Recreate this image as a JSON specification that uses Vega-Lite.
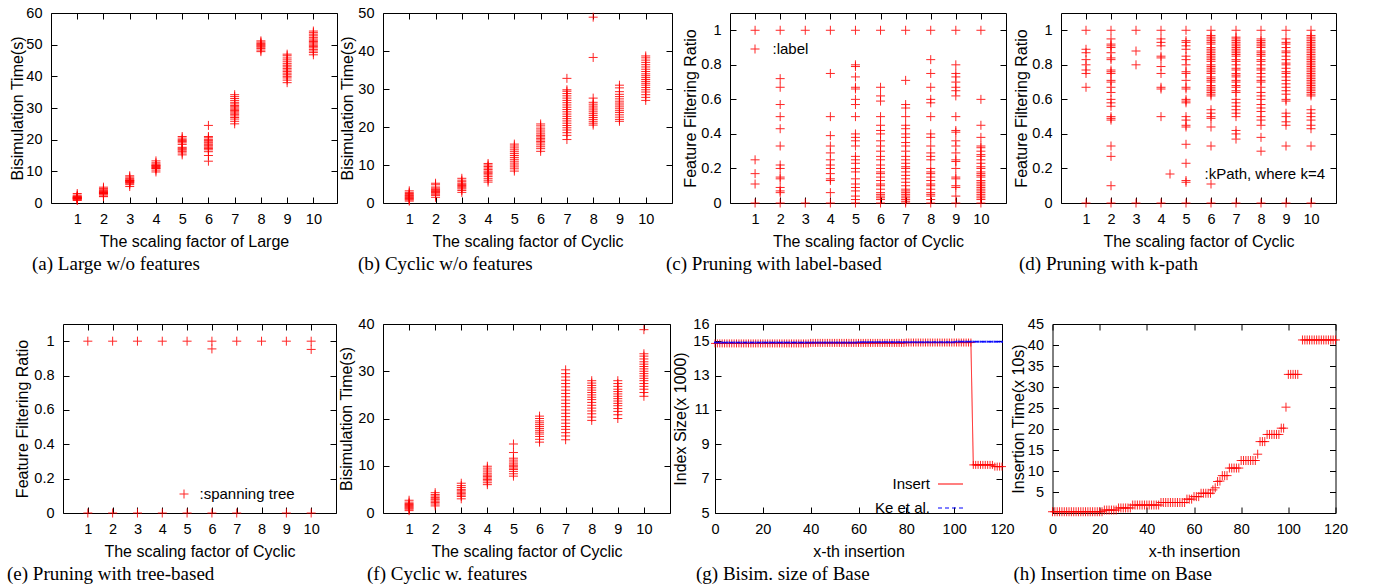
{
"$schema": "https://vega.github.io/schema/vega-lite/v6.json",
"background": "white",
"padding": {"left": 6, "top": 4, "right": 5, "bottom": 5},
"datasets": {
"a": [
{"x":1,"y":0.8},{"x":1,"y":1.0},{"x":1,"y":1.2},{"x":1,"y":1.3},{"x":1,"y":1.4},{"x":1,"y":1.5},{"x":1,"y":1.6},{"x":1,"y":1.7},{"x":1,"y":1.8},{"x":1,"y":1.9},{"x":1,"y":2.0},{"x":1,"y":2.2},{"x":1,"y":2.5},{"x":1,"y":3.0},
{"x":2,"y":2.0},{"x":2,"y":2.2},{"x":2,"y":2.6},{"x":2,"y":2.9},{"x":2,"y":3.0},{"x":2,"y":3.1},{"x":2,"y":3.3},{"x":2,"y":3.4},{"x":2,"y":3.5},{"x":2,"y":3.7},{"x":2,"y":3.9},{"x":2,"y":4.2},{"x":2,"y":4.6},{"x":2,"y":5.0},
{"x":3,"y":5.2},{"x":3,"y":5.8},{"x":3,"y":6.2},{"x":3,"y":6.5},{"x":3,"y":6.6},{"x":3,"y":6.8},{"x":3,"y":7.0},{"x":3,"y":7.1},{"x":3,"y":7.2},{"x":3,"y":7.5},{"x":3,"y":7.8},{"x":3,"y":8.2},{"x":3,"y":8.6},
{"x":4,"y":9.8},{"x":4,"y":10.4},{"x":4,"y":10.9},{"x":4,"y":11.0},{"x":4,"y":11.2},{"x":4,"y":11.5},{"x":4,"y":11.7},{"x":4,"y":11.8},{"x":4,"y":12.0},{"x":4,"y":12.3},{"x":4,"y":12.7},{"x":4,"y":13.3},
{"x":5,"y":15.2},{"x":5,"y":15.8},{"x":5,"y":16.3},{"x":5,"y":16.7},{"x":5,"y":17.0},{"x":5,"y":17.3},{"x":5,"y":17.6},{"x":5,"y":18.5},{"x":5,"y":19.0},{"x":5,"y":19.4},{"x":5,"y":19.7},{"x":5,"y":20.0},{"x":5,"y":20.5},{"x":5,"y":21.0},
{"x":6,"y":13.2},{"x":6,"y":15.0},{"x":6,"y":16.2},{"x":6,"y":16.8},{"x":6,"y":17.2},{"x":6,"y":17.6},{"x":6,"y":18.0},{"x":6,"y":18.3},{"x":6,"y":18.6},{"x":6,"y":19.0},{"x":6,"y":19.3},{"x":6,"y":19.7},{"x":6,"y":20.1},{"x":6,"y":20.6},{"x":6,"y":21.0},{"x":6,"y":24.5},
{"x":7,"y":25.0},{"x":7,"y":25.8},{"x":7,"y":26.5},{"x":7,"y":27.0},{"x":7,"y":27.5},{"x":7,"y":28.0},{"x":7,"y":28.4},{"x":7,"y":28.8},{"x":7,"y":29.2},{"x":7,"y":29.6},{"x":7,"y":30.0},{"x":7,"y":30.4},{"x":7,"y":30.8},{"x":7,"y":31.3},{"x":7,"y":31.8},{"x":7,"y":32.4},{"x":7,"y":33.0},{"x":7,"y":33.6},{"x":7,"y":34.2},
{"x":8,"y":47.8},{"x":8,"y":48.3},{"x":8,"y":48.8},{"x":8,"y":49.2},{"x":8,"y":49.5},{"x":8,"y":49.8},{"x":8,"y":50.1},{"x":8,"y":50.4},{"x":8,"y":50.8},{"x":8,"y":51.2},
{"x":9,"y":38.0},{"x":9,"y":38.8},{"x":9,"y":39.5},{"x":9,"y":40.0},{"x":9,"y":40.5},{"x":9,"y":41.0},{"x":9,"y":41.5},{"x":9,"y":42.0},{"x":9,"y":42.5},{"x":9,"y":43.0},{"x":9,"y":43.5},{"x":9,"y":44.0},{"x":9,"y":44.6},{"x":9,"y":45.2},{"x":9,"y":45.8},{"x":9,"y":46.5},{"x":9,"y":47.0},
{"x":10,"y":46.8},{"x":10,"y":47.5},{"x":10,"y":48.0},{"x":10,"y":48.5},{"x":10,"y":49.0},{"x":10,"y":49.4},{"x":10,"y":49.8},{"x":10,"y":50.2},{"x":10,"y":50.6},{"x":10,"y":51.0},{"x":10,"y":51.4},{"x":10,"y":51.8},{"x":10,"y":52.3},{"x":10,"y":52.8},{"x":10,"y":53.3},{"x":10,"y":53.8},{"x":10,"y":54.3}
],
"b": [
{"x":1,"y":0.5},{"x":1,"y":0.8},{"x":1,"y":1.0},{"x":1,"y":1.2},{"x":1,"y":1.4},{"x":1,"y":1.6},{"x":1,"y":1.8},{"x":1,"y":2.0},{"x":1,"y":2.2},{"x":1,"y":2.5},{"x":1,"y":2.8},{"x":1,"y":3.2},
{"x":2,"y":1.5},{"x":2,"y":2.0},{"x":2,"y":2.3},{"x":2,"y":2.6},{"x":2,"y":2.8},{"x":2,"y":3.0},{"x":2,"y":3.2},{"x":2,"y":3.4},{"x":2,"y":3.6},{"x":2,"y":3.9},{"x":2,"y":4.2},{"x":2,"y":4.8},{"x":2,"y":5.2},
{"x":3,"y":2.8},{"x":3,"y":3.3},{"x":3,"y":3.7},{"x":3,"y":4.0},{"x":3,"y":4.3},{"x":3,"y":4.6},{"x":3,"y":4.9},{"x":3,"y":5.2},{"x":3,"y":5.6},{"x":3,"y":6.0},{"x":3,"y":6.5},
{"x":4,"y":5.5},{"x":4,"y":6.0},{"x":4,"y":6.5},{"x":4,"y":7.0},{"x":4,"y":7.4},{"x":4,"y":7.8},{"x":4,"y":8.1},{"x":4,"y":8.4},{"x":4,"y":8.8},{"x":4,"y":9.2},{"x":4,"y":9.6},{"x":4,"y":10.0},{"x":4,"y":10.4},
{"x":5,"y":8.4},{"x":5,"y":9.0},{"x":5,"y":9.5},{"x":5,"y":10.0},{"x":5,"y":10.5},{"x":5,"y":11.0},{"x":5,"y":11.5},{"x":5,"y":12.0},{"x":5,"y":12.5},{"x":5,"y":13.0},{"x":5,"y":13.5},{"x":5,"y":14.0},{"x":5,"y":14.5},{"x":5,"y":15.0},{"x":5,"y":15.5},
{"x":6,"y":13.6},{"x":6,"y":14.3},{"x":6,"y":14.8},{"x":6,"y":15.3},{"x":6,"y":15.8},{"x":6,"y":16.2},{"x":6,"y":16.6},{"x":6,"y":17.0},{"x":6,"y":17.4},{"x":6,"y":17.8},{"x":6,"y":18.2},{"x":6,"y":18.7},{"x":6,"y":19.2},{"x":6,"y":19.7},{"x":6,"y":20.3},{"x":6,"y":20.8},
{"x":7,"y":16.7},{"x":7,"y":17.8},{"x":7,"y":18.5},{"x":7,"y":19.2},{"x":7,"y":19.8},{"x":7,"y":20.4},{"x":7,"y":21.0},{"x":7,"y":21.6},{"x":7,"y":22.2},{"x":7,"y":22.8},{"x":7,"y":23.4},{"x":7,"y":24.0},{"x":7,"y":24.6},{"x":7,"y":25.2},{"x":7,"y":25.8},{"x":7,"y":26.4},{"x":7,"y":27.0},{"x":7,"y":27.6},{"x":7,"y":28.2},{"x":7,"y":28.8},{"x":7,"y":29.4},{"x":7,"y":29.8},{"x":7,"y":32.8},
{"x":8,"y":20.5},{"x":8,"y":21.0},{"x":8,"y":21.5},{"x":8,"y":22.0},{"x":8,"y":22.5},{"x":8,"y":23.0},{"x":8,"y":23.5},{"x":8,"y":24.0},{"x":8,"y":24.5},{"x":8,"y":25.0},{"x":8,"y":25.5},{"x":8,"y":26.0},{"x":8,"y":26.5},{"x":8,"y":27.6},{"x":8,"y":38.3},{"x":8,"y":48.9},
{"x":9,"y":21.5},{"x":9,"y":22.0},{"x":9,"y":22.6},{"x":9,"y":23.2},{"x":9,"y":23.8},{"x":9,"y":24.3},{"x":9,"y":24.8},{"x":9,"y":25.3},{"x":9,"y":25.8},{"x":9,"y":26.3},{"x":9,"y":26.8},{"x":9,"y":27.4},{"x":9,"y":28.0},{"x":9,"y":28.6},{"x":9,"y":29.3},{"x":9,"y":30.3},{"x":9,"y":31.0},
{"x":10,"y":27.0},{"x":10,"y":27.8},{"x":10,"y":28.5},{"x":10,"y":29.2},{"x":10,"y":29.8},{"x":10,"y":30.4},{"x":10,"y":31.0},{"x":10,"y":31.5},{"x":10,"y":32.0},{"x":10,"y":32.5},{"x":10,"y":33.0},{"x":10,"y":33.5},{"x":10,"y":34.0},{"x":10,"y":34.6},{"x":10,"y":35.2},{"x":10,"y":35.8},{"x":10,"y":36.4},{"x":10,"y":37.0},{"x":10,"y":37.6},{"x":10,"y":38.2},{"x":10,"y":38.7}
],
"c": [
{"x":1,"y":1},{"x":1,"y":0},{"x":1,"y":0.25},{"x":1,"y":0.17},{"x":1,"y":0.11},
{"x":2,"y":1},{"x":2,"y":0},{"x":2,"y":0.72},{"x":2,"y":0.67},{"x":2,"y":0.57},{"x":2,"y":0.5},{"x":2,"y":0.43},{"x":2,"y":0.33},{"x":2,"y":0.22},{"x":2,"y":0.2},{"x":2,"y":0.15},{"x":2,"y":0.14},{"x":2,"y":0.09},{"x":2,"y":0.07},{"x":2,"y":0.06},
{"x":3,"y":1},{"x":3,"y":0},
{"x":4,"y":1},{"x":4,"y":0},{"x":4,"y":0.75},{"x":4,"y":0.5},{"x":4,"y":0.39},{"x":4,"y":0.33},{"x":4,"y":0.29},{"x":4,"y":0.25},{"x":4,"y":0.22},{"x":4,"y":0.2},{"x":4,"y":0.17},{"x":4,"y":0.14},{"x":4,"y":0.13},{"x":4,"y":0.06},
{"x":5,"y":1},{"x":5,"y":0},{"x":5,"y":0.8},{"x":5,"y":0.79},{"x":5,"y":0.73},{"x":5,"y":0.67},{"x":5,"y":0.66},{"x":5,"y":0.6},{"x":5,"y":0.57},{"x":5,"y":0.5},{"x":5,"y":0.4},{"x":5,"y":0.38},{"x":5,"y":0.36},{"x":5,"y":0.33},{"x":5,"y":0.27},{"x":5,"y":0.25},{"x":5,"y":0.23},{"x":5,"y":0.2},{"x":5,"y":0.18},{"x":5,"y":0.14},{"x":5,"y":0.11},{"x":5,"y":0.09},{"x":5,"y":0.07},{"x":5,"y":0.04},{"x":5,"y":0.02},
{"x":6,"y":1},{"x":6,"y":0},{"x":6,"y":0.67},{"x":6,"y":0.62},{"x":6,"y":0.59},{"x":6,"y":0.5},{"x":6,"y":0.45},{"x":6,"y":0.42},{"x":6,"y":0.4},{"x":6,"y":0.36},{"x":6,"y":0.33},{"x":6,"y":0.3},{"x":6,"y":0.27},{"x":6,"y":0.25},{"x":6,"y":0.22},{"x":6,"y":0.2},{"x":6,"y":0.18},{"x":6,"y":0.17},{"x":6,"y":0.15},{"x":6,"y":0.13},{"x":6,"y":0.11},{"x":6,"y":0.1},{"x":6,"y":0.08},{"x":6,"y":0.06},{"x":6,"y":0.05},{"x":6,"y":0.04},{"x":6,"y":0.03},{"x":6,"y":0.02},
{"x":7,"y":1},{"x":7,"y":0},{"x":7,"y":0.71},{"x":7,"y":0.57},{"x":7,"y":0.55},{"x":7,"y":0.5},{"x":7,"y":0.45},{"x":7,"y":0.43},{"x":7,"y":0.4},{"x":7,"y":0.38},{"x":7,"y":0.35},{"x":7,"y":0.33},{"x":7,"y":0.3},{"x":7,"y":0.27},{"x":7,"y":0.25},{"x":7,"y":0.23},{"x":7,"y":0.21},{"x":7,"y":0.2},{"x":7,"y":0.18},{"x":7,"y":0.16},{"x":7,"y":0.14},{"x":7,"y":0.12},{"x":7,"y":0.1},{"x":7,"y":0.08},{"x":7,"y":0.07},{"x":7,"y":0.06},{"x":7,"y":0.05},{"x":7,"y":0.04},{"x":7,"y":0.03},{"x":7,"y":0.02},{"x":7,"y":0.01},
{"x":8,"y":1},{"x":8,"y":0},{"x":8,"y":0.83},{"x":8,"y":0.75},{"x":8,"y":0.67},{"x":8,"y":0.6},{"x":8,"y":0.58},{"x":8,"y":0.5},{"x":8,"y":0.4},{"x":8,"y":0.38},{"x":8,"y":0.33},{"x":8,"y":0.29},{"x":8,"y":0.27},{"x":8,"y":0.25},{"x":8,"y":0.2},{"x":8,"y":0.18},{"x":8,"y":0.17},{"x":8,"y":0.15},{"x":8,"y":0.13},{"x":8,"y":0.11},{"x":8,"y":0.1},{"x":8,"y":0.08},{"x":8,"y":0.06},{"x":8,"y":0.05},{"x":8,"y":0.04},{"x":8,"y":0.02},
{"x":9,"y":1},{"x":9,"y":0},{"x":9,"y":0.8},{"x":9,"y":0.75},{"x":9,"y":0.73},{"x":9,"y":0.7},{"x":9,"y":0.67},{"x":9,"y":0.65},{"x":9,"y":0.62},{"x":9,"y":0.5},{"x":9,"y":0.42},{"x":9,"y":0.41},{"x":9,"y":0.36},{"x":9,"y":0.33},{"x":9,"y":0.29},{"x":9,"y":0.25},{"x":9,"y":0.24},{"x":9,"y":0.2},{"x":9,"y":0.15},{"x":9,"y":0.14},{"x":9,"y":0.1},{"x":9,"y":0.09},{"x":9,"y":0.04},
{"x":10,"y":1},{"x":10,"y":0},{"x":10,"y":0.6},{"x":10,"y":0.45},{"x":10,"y":0.38},{"x":10,"y":0.33},{"x":10,"y":0.32},{"x":10,"y":0.3},{"x":10,"y":0.28},{"x":10,"y":0.27},{"x":10,"y":0.25},{"x":10,"y":0.23},{"x":10,"y":0.21},{"x":10,"y":0.2},{"x":10,"y":0.18},{"x":10,"y":0.17},{"x":10,"y":0.16},{"x":10,"y":0.15},{"x":10,"y":0.13},{"x":10,"y":0.12},{"x":10,"y":0.11},{"x":10,"y":0.1},{"x":10,"y":0.09},{"x":10,"y":0.08},{"x":10,"y":0.07},{"x":10,"y":0.06},{"x":10,"y":0.05},{"x":10,"y":0.04},{"x":10,"y":0.03},{"x":10,"y":0.02}
],
"d": [
{"x":1,"y":1},{"x":1,"y":0},{"x":1,"y":0.89},{"x":1,"y":0.87},{"x":1,"y":0.83},{"x":1,"y":0.8},{"x":1,"y":0.77},{"x":1,"y":0.75},{"x":1,"y":0.67},
{"x":2,"y":1},{"x":2,"y":0},{"x":2,"y":0.95},{"x":2,"y":0.92},{"x":2,"y":0.91},{"x":2,"y":0.9},{"x":2,"y":0.87},{"x":2,"y":0.84},{"x":2,"y":0.83},{"x":2,"y":0.77},{"x":2,"y":0.76},{"x":2,"y":0.75},{"x":2,"y":0.71},{"x":2,"y":0.7},{"x":2,"y":0.67},{"x":2,"y":0.64},{"x":2,"y":0.6},{"x":2,"y":0.58},{"x":2,"y":0.56},{"x":2,"y":0.5},{"x":2,"y":0.49},{"x":2,"y":0.48},{"x":2,"y":0.33},{"x":2,"y":0.27},{"x":2,"y":0.1},
{"x":3,"y":1},{"x":3,"y":0},{"x":3,"y":0.88},{"x":3,"y":0.8},
{"x":4,"y":1},{"x":4,"y":0},{"x":4,"y":0.95},{"x":4,"y":0.93},{"x":4,"y":0.91},{"x":4,"y":0.85},{"x":4,"y":0.84},{"x":4,"y":0.79},{"x":4,"y":0.75},{"x":4,"y":0.67},{"x":4,"y":0.66},{"x":4,"y":0.5},
{"x":5,"y":1},{"x":5,"y":0},{"x":5,"y":0.94},{"x":5,"y":0.93},{"x":5,"y":0.91},{"x":5,"y":0.89},{"x":5,"y":0.85},{"x":5,"y":0.83},{"x":5,"y":0.8},{"x":5,"y":0.76},{"x":5,"y":0.75},{"x":5,"y":0.71},{"x":5,"y":0.67},{"x":5,"y":0.66},{"x":5,"y":0.6},{"x":5,"y":0.59},{"x":5,"y":0.58},{"x":5,"y":0.5},{"x":5,"y":0.48},{"x":5,"y":0.45},{"x":5,"y":0.44},{"x":5,"y":0.34},{"x":5,"y":0.23},{"x":5,"y":0.13},{"x":5,"y":0.12},
{"x":6,"y":1},{"x":6,"y":0},{"x":6,"y":0.97},{"x":6,"y":0.96},{"x":6,"y":0.95},{"x":6,"y":0.94},{"x":6,"y":0.93},{"x":6,"y":0.92},{"x":6,"y":0.9},{"x":6,"y":0.89},{"x":6,"y":0.88},{"x":6,"y":0.87},{"x":6,"y":0.86},{"x":6,"y":0.85},{"x":6,"y":0.84},{"x":6,"y":0.83},{"x":6,"y":0.82},{"x":6,"y":0.8},{"x":6,"y":0.79},{"x":6,"y":0.78},{"x":6,"y":0.77},{"x":6,"y":0.76},{"x":6,"y":0.75},{"x":6,"y":0.73},{"x":6,"y":0.72},{"x":6,"y":0.71},{"x":6,"y":0.7},{"x":6,"y":0.68},{"x":6,"y":0.67},{"x":6,"y":0.66},{"x":6,"y":0.65},{"x":6,"y":0.64},{"x":6,"y":0.63},{"x":6,"y":0.62},{"x":6,"y":0.54},{"x":6,"y":0.52},{"x":6,"y":0.5},{"x":6,"y":0.49},{"x":6,"y":0.44},{"x":6,"y":0.33},{"x":6,"y":0.11},
{"x":7,"y":1},{"x":7,"y":0},{"x":7,"y":0.96},{"x":7,"y":0.95},{"x":7,"y":0.94},{"x":7,"y":0.93},{"x":7,"y":0.92},{"x":7,"y":0.91},{"x":7,"y":0.9},{"x":7,"y":0.89},{"x":7,"y":0.88},{"x":7,"y":0.87},{"x":7,"y":0.86},{"x":7,"y":0.85},{"x":7,"y":0.83},{"x":7,"y":0.82},{"x":7,"y":0.8},{"x":7,"y":0.78},{"x":7,"y":0.77},{"x":7,"y":0.75},{"x":7,"y":0.74},{"x":7,"y":0.73},{"x":7,"y":0.71},{"x":7,"y":0.7},{"x":7,"y":0.68},{"x":7,"y":0.67},{"x":7,"y":0.65},{"x":7,"y":0.64},{"x":7,"y":0.6},{"x":7,"y":0.58},{"x":7,"y":0.56},{"x":7,"y":0.54},{"x":7,"y":0.52},{"x":7,"y":0.5},{"x":7,"y":0.42},{"x":7,"y":0.4},{"x":7,"y":0.37},
{"x":8,"y":1},{"x":8,"y":0},{"x":8,"y":0.95},{"x":8,"y":0.94},{"x":8,"y":0.93},{"x":8,"y":0.92},{"x":8,"y":0.91},{"x":8,"y":0.9},{"x":8,"y":0.88},{"x":8,"y":0.87},{"x":8,"y":0.86},{"x":8,"y":0.85},{"x":8,"y":0.83},{"x":8,"y":0.82},{"x":8,"y":0.8},{"x":8,"y":0.78},{"x":8,"y":0.77},{"x":8,"y":0.75},{"x":8,"y":0.73},{"x":8,"y":0.71},{"x":8,"y":0.7},{"x":8,"y":0.67},{"x":8,"y":0.64},{"x":8,"y":0.62},{"x":8,"y":0.6},{"x":8,"y":0.57},{"x":8,"y":0.55},{"x":8,"y":0.53},{"x":8,"y":0.5},{"x":8,"y":0.48},{"x":8,"y":0.45},{"x":8,"y":0.38},{"x":8,"y":0.3},
{"x":9,"y":1},{"x":9,"y":0},{"x":9,"y":0.95},{"x":9,"y":0.93},{"x":9,"y":0.92},{"x":9,"y":0.9},{"x":9,"y":0.88},{"x":9,"y":0.87},{"x":9,"y":0.85},{"x":9,"y":0.83},{"x":9,"y":0.81},{"x":9,"y":0.8},{"x":9,"y":0.78},{"x":9,"y":0.76},{"x":9,"y":0.75},{"x":9,"y":0.73},{"x":9,"y":0.71},{"x":9,"y":0.69},{"x":9,"y":0.67},{"x":9,"y":0.65},{"x":9,"y":0.63},{"x":9,"y":0.6},{"x":9,"y":0.59},{"x":9,"y":0.52},{"x":9,"y":0.5},{"x":9,"y":0.47},{"x":9,"y":0.45},{"x":9,"y":0.33},
{"x":10,"y":1},{"x":10,"y":0},{"x":10,"y":0.97},{"x":10,"y":0.96},{"x":10,"y":0.95},{"x":10,"y":0.94},{"x":10,"y":0.93},{"x":10,"y":0.92},{"x":10,"y":0.91},{"x":10,"y":0.9},{"x":10,"y":0.89},{"x":10,"y":0.88},{"x":10,"y":0.87},{"x":10,"y":0.86},{"x":10,"y":0.85},{"x":10,"y":0.84},{"x":10,"y":0.83},{"x":10,"y":0.82},{"x":10,"y":0.81},{"x":10,"y":0.8},{"x":10,"y":0.79},{"x":10,"y":0.78},{"x":10,"y":0.77},{"x":10,"y":0.76},{"x":10,"y":0.75},{"x":10,"y":0.74},{"x":10,"y":0.73},{"x":10,"y":0.72},{"x":10,"y":0.71},{"x":10,"y":0.7},{"x":10,"y":0.69},{"x":10,"y":0.68},{"x":10,"y":0.67},{"x":10,"y":0.66},{"x":10,"y":0.65},{"x":10,"y":0.64},{"x":10,"y":0.63},{"x":10,"y":0.62},{"x":10,"y":0.54},{"x":10,"y":0.52},{"x":10,"y":0.5},{"x":10,"y":0.48},{"x":10,"y":0.45},{"x":10,"y":0.43},{"x":10,"y":0.33}
],
"e": [
{"x":1,"y":1},{"x":2,"y":1},{"x":3,"y":1},{"x":4,"y":1},{"x":5,"y":1},{"x":6,"y":1},{"x":7,"y":1},{"x":8,"y":1},{"x":9,"y":1},{"x":10,"y":1},
{"x":1,"y":0},{"x":2,"y":0},{"x":3,"y":0},{"x":4,"y":0},{"x":5,"y":0},{"x":6,"y":0},{"x":7,"y":0},{"x":9,"y":0},{"x":10,"y":0},
{"x":6,"y":0.955},{"x":10,"y":0.952}
],
"f": [
{"x":1,"y":0.5},{"x":1,"y":0.8},{"x":1,"y":1.0},{"x":1,"y":1.2},{"x":1,"y":1.4},{"x":1,"y":1.6},{"x":1,"y":1.8},{"x":1,"y":2.0},{"x":1,"y":2.3},{"x":1,"y":2.7},
{"x":2,"y":1.5},{"x":2,"y":1.9},{"x":2,"y":2.2},{"x":2,"y":2.5},{"x":2,"y":2.8},{"x":2,"y":3.0},{"x":2,"y":3.3},{"x":2,"y":3.6},{"x":2,"y":3.9},{"x":2,"y":4.3},
{"x":3,"y":3.0},{"x":3,"y":3.5},{"x":3,"y":3.8},{"x":3,"y":4.1},{"x":3,"y":4.4},{"x":3,"y":4.7},{"x":3,"y":5.0},{"x":3,"y":5.4},{"x":3,"y":5.8},{"x":3,"y":6.3},
{"x":4,"y":6.0},{"x":4,"y":6.4},{"x":4,"y":6.8},{"x":4,"y":7.1},{"x":4,"y":7.4},{"x":4,"y":7.7},{"x":4,"y":8.0},{"x":4,"y":8.3},{"x":4,"y":8.7},{"x":4,"y":9.1},{"x":4,"y":9.5},{"x":4,"y":9.9},
{"x":5,"y":7.8},{"x":5,"y":8.3},{"x":5,"y":8.8},{"x":5,"y":9.2},{"x":5,"y":9.5},{"x":5,"y":9.8},{"x":5,"y":10.1},{"x":5,"y":10.4},{"x":5,"y":10.8},{"x":5,"y":11.2},{"x":5,"y":11.6},{"x":5,"y":12.8},{"x":5,"y":14.6},
{"x":6,"y":15.0},{"x":6,"y":15.6},{"x":6,"y":16.2},{"x":6,"y":16.7},{"x":6,"y":17.1},{"x":6,"y":17.5},{"x":6,"y":17.9},{"x":6,"y":18.3},{"x":6,"y":18.7},{"x":6,"y":19.1},{"x":6,"y":19.5},{"x":6,"y":20.0},{"x":6,"y":20.5},
{"x":7,"y":15.5},{"x":7,"y":16.3},{"x":7,"y":17.0},{"x":7,"y":17.7},{"x":7,"y":18.3},{"x":7,"y":19.0},{"x":7,"y":19.7},{"x":7,"y":20.4},{"x":7,"y":21.1},{"x":7,"y":21.8},{"x":7,"y":22.5},{"x":7,"y":23.2},{"x":7,"y":23.9},{"x":7,"y":24.6},{"x":7,"y":25.3},{"x":7,"y":26.0},{"x":7,"y":26.7},{"x":7,"y":27.4},{"x":7,"y":28.1},{"x":7,"y":28.8},{"x":7,"y":29.5},{"x":7,"y":30.3},
{"x":8,"y":19.6},{"x":8,"y":20.3},{"x":8,"y":21.0},{"x":8,"y":21.6},{"x":8,"y":22.2},{"x":8,"y":22.8},{"x":8,"y":23.4},{"x":8,"y":24.0},{"x":8,"y":24.5},{"x":8,"y":25.0},{"x":8,"y":25.5},{"x":8,"y":26.0},{"x":8,"y":26.5},{"x":8,"y":27.0},{"x":8,"y":27.5},{"x":8,"y":28.0},
{"x":9,"y":20.0},{"x":9,"y":20.8},{"x":9,"y":21.5},{"x":9,"y":22.1},{"x":9,"y":22.7},{"x":9,"y":23.2},{"x":9,"y":23.7},{"x":9,"y":24.2},{"x":9,"y":24.7},{"x":9,"y":25.2},{"x":9,"y":25.7},{"x":9,"y":26.2},{"x":9,"y":26.8},{"x":9,"y":27.4},{"x":9,"y":28.0},
{"x":10,"y":24.7},{"x":10,"y":25.5},{"x":10,"y":26.2},{"x":10,"y":26.8},{"x":10,"y":27.4},{"x":10,"y":28.0},{"x":10,"y":28.5},{"x":10,"y":29.0},{"x":10,"y":29.5},{"x":10,"y":30.0},{"x":10,"y":30.5},{"x":10,"y":31.0},{"x":10,"y":31.5},{"x":10,"y":32.0},{"x":10,"y":32.6},{"x":10,"y":33.2},{"x":10,"y":33.7},{"x":10,"y":38.8}
],
"g": [
{"x":0,"y":14.87,"s":"Insert"},{"x":1,"y":14.87,"s":"Insert"},{"x":2,"y":14.87,"s":"Insert"},{"x":3,"y":14.87,"s":"Insert"},{"x":4,"y":14.87,"s":"Insert"},{"x":5,"y":14.87,"s":"Insert"},{"x":6,"y":14.87,"s":"Insert"},{"x":7,"y":14.87,"s":"Insert"},{"x":8,"y":14.87,"s":"Insert"},{"x":9,"y":14.87,"s":"Insert"},
{"x":10,"y":14.87,"s":"Insert"},{"x":11,"y":14.87,"s":"Insert"},{"x":12,"y":14.87,"s":"Insert"},{"x":13,"y":14.87,"s":"Insert"},{"x":14,"y":14.87,"s":"Insert"},{"x":15,"y":14.87,"s":"Insert"},{"x":16,"y":14.87,"s":"Insert"},{"x":17,"y":14.87,"s":"Insert"},{"x":18,"y":14.87,"s":"Insert"},{"x":19,"y":14.87,"s":"Insert"},
{"x":20,"y":14.87,"s":"Insert"},{"x":21,"y":14.87,"s":"Insert"},{"x":22,"y":14.87,"s":"Insert"},{"x":23,"y":14.87,"s":"Insert"},{"x":24,"y":14.87,"s":"Insert"},{"x":25,"y":14.87,"s":"Insert"},{"x":26,"y":14.87,"s":"Insert"},{"x":27,"y":14.87,"s":"Insert"},{"x":28,"y":14.87,"s":"Insert"},{"x":29,"y":14.87,"s":"Insert"},
{"x":30,"y":14.87,"s":"Insert"},{"x":31,"y":14.87,"s":"Insert"},{"x":32,"y":14.87,"s":"Insert"},{"x":33,"y":14.87,"s":"Insert"},{"x":34,"y":14.87,"s":"Insert"},{"x":35,"y":14.87,"s":"Insert"},{"x":36,"y":14.87,"s":"Insert"},{"x":37,"y":14.87,"s":"Insert"},{"x":38,"y":14.87,"s":"Insert"},{"x":39,"y":14.87,"s":"Insert"},
{"x":40,"y":14.9,"s":"Insert"},{"x":41,"y":14.9,"s":"Insert"},{"x":42,"y":14.9,"s":"Insert"},{"x":43,"y":14.9,"s":"Insert"},{"x":44,"y":14.9,"s":"Insert"},{"x":45,"y":14.9,"s":"Insert"},{"x":46,"y":14.9,"s":"Insert"},{"x":47,"y":14.9,"s":"Insert"},{"x":48,"y":14.9,"s":"Insert"},{"x":49,"y":14.9,"s":"Insert"},
{"x":50,"y":14.9,"s":"Insert"},{"x":51,"y":14.9,"s":"Insert"},{"x":52,"y":14.9,"s":"Insert"},{"x":53,"y":14.9,"s":"Insert"},{"x":54,"y":14.9,"s":"Insert"},{"x":55,"y":14.9,"s":"Insert"},{"x":56,"y":14.9,"s":"Insert"},{"x":57,"y":14.9,"s":"Insert"},{"x":58,"y":14.9,"s":"Insert"},{"x":59,"y":14.9,"s":"Insert"},
{"x":60,"y":14.9,"s":"Insert"},{"x":61,"y":14.9,"s":"Insert"},{"x":62,"y":14.9,"s":"Insert"},{"x":63,"y":14.9,"s":"Insert"},{"x":64,"y":14.9,"s":"Insert"},{"x":65,"y":14.9,"s":"Insert"},{"x":66,"y":14.9,"s":"Insert"},{"x":67,"y":14.9,"s":"Insert"},{"x":68,"y":14.9,"s":"Insert"},{"x":69,"y":14.9,"s":"Insert"},
{"x":70,"y":14.9,"s":"Insert"},{"x":71,"y":14.9,"s":"Insert"},{"x":72,"y":14.9,"s":"Insert"},{"x":73,"y":14.9,"s":"Insert"},{"x":74,"y":14.9,"s":"Insert"},{"x":75,"y":14.9,"s":"Insert"},{"x":76,"y":14.9,"s":"Insert"},{"x":77,"y":14.9,"s":"Insert"},{"x":78,"y":14.9,"s":"Insert"},{"x":79,"y":14.9,"s":"Insert"},
{"x":80,"y":14.92,"s":"Insert"},{"x":81,"y":14.92,"s":"Insert"},{"x":82,"y":14.92,"s":"Insert"},{"x":83,"y":14.92,"s":"Insert"},{"x":84,"y":14.92,"s":"Insert"},{"x":85,"y":14.92,"s":"Insert"},{"x":86,"y":14.92,"s":"Insert"},{"x":87,"y":14.92,"s":"Insert"},{"x":88,"y":14.92,"s":"Insert"},{"x":89,"y":14.92,"s":"Insert"},
{"x":90,"y":14.92,"s":"Insert"},{"x":91,"y":14.92,"s":"Insert"},{"x":92,"y":14.92,"s":"Insert"},{"x":93,"y":14.92,"s":"Insert"},{"x":94,"y":14.92,"s":"Insert"},{"x":95,"y":14.92,"s":"Insert"},{"x":96,"y":14.92,"s":"Insert"},{"x":97,"y":14.92,"s":"Insert"},{"x":98,"y":14.92,"s":"Insert"},{"x":99,"y":14.92,"s":"Insert"},
{"x":100,"y":14.92,"s":"Insert"},{"x":101,"y":14.92,"s":"Insert"},{"x":102,"y":14.92,"s":"Insert"},{"x":103,"y":14.92,"s":"Insert"},{"x":104,"y":14.92,"s":"Insert"},{"x":105,"y":14.92,"s":"Insert"},{"x":106,"y":14.92,"s":"Insert"},{"x":107,"y":14.92,"s":"Insert"},{"x":108,"y":7.8,"s":"Insert"},{"x":109,"y":7.8,"s":"Insert"},
{"x":110,"y":7.8,"s":"Insert"},{"x":111,"y":7.8,"s":"Insert"},{"x":112,"y":7.8,"s":"Insert"},{"x":113,"y":7.8,"s":"Insert"},{"x":114,"y":7.8,"s":"Insert"},{"x":115,"y":7.8,"s":"Insert"},{"x":116,"y":7.8,"s":"Insert"},{"x":117,"y":7.7,"s":"Insert"},{"x":118,"y":7.7,"s":"Insert"},{"x":119,"y":7.7,"s":"Insert"},{"x":120,"y":7.7,"s":"Insert"},
{"x":0,"y":14.92,"s":"Ke et al."},{"x":1,"y":14.92,"s":"Ke et al."},{"x":2,"y":14.92,"s":"Ke et al."},{"x":3,"y":14.92,"s":"Ke et al."},{"x":4,"y":14.92,"s":"Ke et al."},{"x":5,"y":14.92,"s":"Ke et al."},{"x":6,"y":14.92,"s":"Ke et al."},{"x":7,"y":14.92,"s":"Ke et al."},{"x":8,"y":14.92,"s":"Ke et al."},{"x":9,"y":14.92,"s":"Ke et al."},
{"x":10,"y":14.92,"s":"Ke et al."},{"x":11,"y":14.92,"s":"Ke et al."},{"x":12,"y":14.92,"s":"Ke et al."},{"x":13,"y":14.92,"s":"Ke et al."},{"x":14,"y":14.92,"s":"Ke et al."},{"x":15,"y":14.92,"s":"Ke et al."},{"x":16,"y":14.92,"s":"Ke et al."},{"x":17,"y":14.92,"s":"Ke et al."},{"x":18,"y":14.92,"s":"Ke et al."},{"x":19,"y":14.92,"s":"Ke et al."},
{"x":20,"y":14.92,"s":"Ke et al."},{"x":21,"y":14.92,"s":"Ke et al."},{"x":22,"y":14.92,"s":"Ke et al."},{"x":23,"y":14.92,"s":"Ke et al."},{"x":24,"y":14.92,"s":"Ke et al."},{"x":25,"y":14.92,"s":"Ke et al."},{"x":26,"y":14.92,"s":"Ke et al."},{"x":27,"y":14.92,"s":"Ke et al."},{"x":28,"y":14.92,"s":"Ke et al."},{"x":29,"y":14.92,"s":"Ke et al."},
{"x":30,"y":14.92,"s":"Ke et al."},{"x":31,"y":14.92,"s":"Ke et al."},{"x":32,"y":14.92,"s":"Ke et al."},{"x":33,"y":14.92,"s":"Ke et al."},{"x":34,"y":14.92,"s":"Ke et al."},{"x":35,"y":14.92,"s":"Ke et al."},{"x":36,"y":14.92,"s":"Ke et al."},{"x":37,"y":14.92,"s":"Ke et al."},{"x":38,"y":14.92,"s":"Ke et al."},{"x":39,"y":14.92,"s":"Ke et al."},
{"x":40,"y":14.92,"s":"Ke et al."},{"x":41,"y":14.92,"s":"Ke et al."},{"x":42,"y":14.92,"s":"Ke et al."},{"x":43,"y":14.92,"s":"Ke et al."},{"x":44,"y":14.92,"s":"Ke et al."},{"x":45,"y":14.92,"s":"Ke et al."},{"x":46,"y":14.92,"s":"Ke et al."},{"x":47,"y":14.92,"s":"Ke et al."},{"x":48,"y":14.92,"s":"Ke et al."},{"x":49,"y":14.92,"s":"Ke et al."},
{"x":50,"y":14.92,"s":"Ke et al."},{"x":51,"y":14.92,"s":"Ke et al."},{"x":52,"y":14.92,"s":"Ke et al."},{"x":53,"y":14.92,"s":"Ke et al."},{"x":54,"y":14.92,"s":"Ke et al."},{"x":55,"y":14.92,"s":"Ke et al."},{"x":56,"y":14.92,"s":"Ke et al."},{"x":57,"y":14.92,"s":"Ke et al."},{"x":58,"y":14.92,"s":"Ke et al."},{"x":59,"y":14.92,"s":"Ke et al."},
{"x":60,"y":14.94,"s":"Ke et al."},{"x":61,"y":14.94,"s":"Ke et al."},{"x":62,"y":14.94,"s":"Ke et al."},{"x":63,"y":14.94,"s":"Ke et al."},{"x":64,"y":14.94,"s":"Ke et al."},{"x":65,"y":14.94,"s":"Ke et al."},{"x":66,"y":14.94,"s":"Ke et al."},{"x":67,"y":14.94,"s":"Ke et al."},{"x":68,"y":14.94,"s":"Ke et al."},{"x":69,"y":14.94,"s":"Ke et al."},
{"x":70,"y":14.94,"s":"Ke et al."},{"x":71,"y":14.94,"s":"Ke et al."},{"x":72,"y":14.94,"s":"Ke et al."},{"x":73,"y":14.94,"s":"Ke et al."},{"x":74,"y":14.94,"s":"Ke et al."},{"x":75,"y":14.94,"s":"Ke et al."},{"x":76,"y":14.94,"s":"Ke et al."},{"x":77,"y":14.94,"s":"Ke et al."},{"x":78,"y":14.94,"s":"Ke et al."},{"x":79,"y":14.94,"s":"Ke et al."},
{"x":80,"y":14.94,"s":"Ke et al."},{"x":81,"y":14.94,"s":"Ke et al."},{"x":82,"y":14.94,"s":"Ke et al."},{"x":83,"y":14.94,"s":"Ke et al."},{"x":84,"y":14.94,"s":"Ke et al."},{"x":85,"y":14.94,"s":"Ke et al."},{"x":86,"y":14.94,"s":"Ke et al."},{"x":87,"y":14.94,"s":"Ke et al."},{"x":88,"y":14.94,"s":"Ke et al."},{"x":89,"y":14.94,"s":"Ke et al."},
{"x":90,"y":14.94,"s":"Ke et al."},{"x":91,"y":14.94,"s":"Ke et al."},{"x":92,"y":14.94,"s":"Ke et al."},{"x":93,"y":14.94,"s":"Ke et al."},{"x":94,"y":14.94,"s":"Ke et al."},{"x":95,"y":14.94,"s":"Ke et al."},{"x":96,"y":14.94,"s":"Ke et al."},{"x":97,"y":14.94,"s":"Ke et al."},{"x":98,"y":14.94,"s":"Ke et al."},{"x":99,"y":14.94,"s":"Ke et al."},
{"x":100,"y":14.94,"s":"Ke et al."},{"x":101,"y":14.97,"s":"Ke et al."},{"x":102,"y":14.97,"s":"Ke et al."},{"x":103,"y":14.97,"s":"Ke et al."},{"x":104,"y":14.97,"s":"Ke et al."},{"x":105,"y":14.97,"s":"Ke et al."},{"x":106,"y":14.97,"s":"Ke et al."},{"x":107,"y":14.97,"s":"Ke et al."},{"x":108,"y":14.97,"s":"Ke et al."},{"x":109,"y":14.97,"s":"Ke et al."},
{"x":110,"y":14.97,"s":"Ke et al."},{"x":111,"y":14.97,"s":"Ke et al."},{"x":112,"y":14.97,"s":"Ke et al."},{"x":113,"y":14.97,"s":"Ke et al."},{"x":114,"y":14.97,"s":"Ke et al."},{"x":115,"y":14.97,"s":"Ke et al."},{"x":116,"y":14.97,"s":"Ke et al."},{"x":117,"y":14.97,"s":"Ke et al."},{"x":118,"y":14.97,"s":"Ke et al."},{"x":119,"y":14.97,"s":"Ke et al."},{"x":120,"y":14.97,"s":"Ke et al."}
],
"h": [
{"x":0,"y":0.3},{"x":1,"y":0.3},{"x":2,"y":0.3},{"x":3,"y":0.3},{"x":4,"y":0.3},{"x":5,"y":0.3},{"x":6,"y":0.3},{"x":7,"y":0.3},{"x":8,"y":0.3},{"x":9,"y":0.3},
{"x":10,"y":0.3},{"x":11,"y":0.3},{"x":12,"y":0.3},{"x":13,"y":0.3},{"x":14,"y":0.3},{"x":15,"y":0.3},{"x":16,"y":0.3},{"x":17,"y":0.3},{"x":18,"y":0.3},{"x":19,"y":0.3},
{"x":20,"y":0.3},{"x":21,"y":0.3},{"x":22,"y":0.7},{"x":23,"y":0.7},{"x":24,"y":0.7},{"x":25,"y":0.7},{"x":26,"y":0.7},{"x":27,"y":0.7},{"x":28,"y":1.2},{"x":29,"y":1.2},
{"x":30,"y":1.2},{"x":31,"y":1.2},{"x":32,"y":1.2},{"x":33,"y":1.2},{"x":34,"y":1.9},{"x":35,"y":1.9},{"x":36,"y":1.9},{"x":37,"y":1.9},{"x":38,"y":1.9},{"x":39,"y":1.9},
{"x":40,"y":1.9},{"x":41,"y":1.9},{"x":42,"y":1.9},{"x":43,"y":1.9},{"x":44,"y":1.9},{"x":45,"y":1.9},{"x":46,"y":2.5},{"x":47,"y":2.5},{"x":48,"y":2.5},{"x":49,"y":2.5},
{"x":50,"y":2.5},{"x":51,"y":2.5},{"x":52,"y":2.5},{"x":53,"y":2.5},{"x":54,"y":2.5},{"x":55,"y":2.5},{"x":56,"y":2.5},{"x":57,"y":3.3},{"x":58,"y":3.3},{"x":59,"y":3.3},
{"x":60,"y":3.9},{"x":61,"y":3.9},{"x":62,"y":3.9},{"x":63,"y":4.7},{"x":64,"y":4.7},{"x":65,"y":4.7},{"x":66,"y":4.7},{"x":67,"y":4.7},{"x":68,"y":5.5},{"x":69,"y":6.0},
{"x":70,"y":7.5},{"x":71,"y":7.6},{"x":72,"y":8.9},{"x":73,"y":8.9},{"x":74,"y":8.9},{"x":75,"y":10.7},{"x":76,"y":10.7},{"x":77,"y":10.7},{"x":78,"y":10.7},{"x":79,"y":10.7},
{"x":80,"y":12.5},{"x":81,"y":12.5},{"x":82,"y":12.5},{"x":83,"y":12.5},{"x":84,"y":12.5},{"x":85,"y":12.5},{"x":86,"y":12.5},{"x":87,"y":14.0},{"x":88,"y":17.0},{"x":89,"y":17.0},
{"x":90,"y":17.0},{"x":91,"y":18.7},{"x":92,"y":18.7},{"x":93,"y":18.7},{"x":94,"y":18.7},{"x":95,"y":18.7},{"x":96,"y":18.7},{"x":97,"y":20.2},{"x":98,"y":20.2},{"x":99,"y":25.2},
{"x":100,"y":33.0},{"x":101,"y":33.0},{"x":102,"y":33.0},{"x":103,"y":33.0},{"x":104,"y":33.0},{"x":106,"y":41.2},{"x":107,"y":41.2},{"x":108,"y":41.2},{"x":109,"y":41.2},
{"x":110,"y":41.2},{"x":111,"y":41.2},{"x":112,"y":41.2},{"x":113,"y":41.2},{"x":114,"y":41.2},{"x":115,"y":41.2},{"x":116,"y":41.2},{"x":117,"y":41.2},{"x":118,"y":41.2},{"x":119,"y":41.2},{"x":120,"y":41.2}
]
},
"spacing": 41,
"resolve": {"scale": {"color": "independent", "shape": "independent", "size": "independent", "strokeDash": "independent"}, "legend": {"color": "independent", "shape": "independent", "size": "independent", "strokeDash": "independent"}},
"vconcat": [
{"spacing": 5,
 "resolve": {"scale": {"color": "independent", "strokeDash": "independent"}, "legend": {"color": "independent", "strokeDash": "independent"}},
 "hconcat": [
 {"spacing": 0,
  "resolve": {"scale": {"color": "independent"}, "legend": {"color": "independent"}},
  "hconcat": [
  {"width": 286, "height": 190, "data": {"name": "a"},
   "title": {"text": "(a) Large w/o features", "orient": "bottom", "anchor": "start", "frame": "group", "dx": -19, "offset": 5},
   "layer": [
    {"mark": {"type": "point", "shape": "M-1,0H1M0,-1V1", "filled": false, "color": "#ff0000", "size": 81, "strokeWidth": 1, "opacity": 0.85},
     "encoding": {
      "x": {"field": "x", "type": "quantitative", "scale": {"domain": [0, 10.9], "nice": false, "zero": false}, "axis": {"values": [1,2,3,4,5,6,7,8,9,10], "title": "The scaling factor of Large"}},
      "y": {"field": "y", "type": "quantitative", "scale": {"domain": [0, 60], "nice": false, "zero": false}, "axis": {"values": [0,10,20,30,40,50,60], "title": "Bisimulation Time(s)", "titlePadding": 0.4}}}},
    {"mark": {"type": "point", "opacity": 0},
     "encoding": {
      "x": {"field": "x", "type": "quantitative", "scale": {"domain": [0, 10.9], "nice": false, "zero": false}, "axis": {"orient": "top", "values": [1,2,3,4,5,6,7,8,9,10], "labels": false, "title": null}},
      "y": {"field": "y", "type": "quantitative", "scale": {"domain": [0, 60], "nice": false, "zero": false}, "axis": {"orient": "right", "values": [0,10,20,30,40,50,60], "labels": false, "title": null}}}}
   ],
   "resolve": {"axis": {"x": "independent", "y": "independent"}}},
  {"spacing": -8,
   "resolve": {"scale": {"color": "independent"}, "legend": {"color": "independent"}},
   "hconcat": [
   {"width": 289, "height": 190, "data": {"name": "b"},
    "title": {"text": "(b) Cyclic w/o features", "orient": "bottom", "anchor": "start", "frame": "group", "dx": -25, "offset": 5},
    "layer": [
     {"mark": {"type": "point", "shape": "M-1,0H1M0,-1V1", "filled": false, "color": "#ff0000", "size": 81, "strokeWidth": 1, "opacity": 0.85},
      "encoding": {
       "x": {"field": "x", "type": "quantitative", "scale": {"domain": [0, 11], "nice": false, "zero": false}, "axis": {"values": [1,2,3,4,5,6,7,8,9,10], "title": "The scaling factor of Cyclic"}},
       "y": {"field": "y", "type": "quantitative", "scale": {"domain": [0, 50], "nice": false, "zero": false}, "axis": {"values": [0,10,20,30,40,50], "title": "Bisimulation Time(s)", "titlePadding": 2.4}}}},
     {"mark": {"type": "point", "opacity": 0},
      "encoding": {
       "x": {"field": "x", "type": "quantitative", "scale": {"domain": [0, 11], "nice": false, "zero": false}, "axis": {"orient": "top", "values": [1,2,3,4,5,6,7,8,9,10], "labels": false, "title": null}},
       "y": {"field": "y", "type": "quantitative", "scale": {"domain": [0, 50], "nice": false, "zero": false}, "axis": {"orient": "right", "values": [0,10,20,30,40,50], "labels": false, "title": null}}}}
    ],
    "resolve": {"axis": {"x": "independent", "y": "independent"}}},
   {"width": 276, "height": 190, "data": {"name": "c"},
    "title": {"text": "(c) Pruning with label-based", "orient": "bottom", "anchor": "start", "frame": "group", "dx": -64, "offset": 5},
    "layer": [
     {"mark": {"type": "point", "shape": "M-1,0H1M0,-1V1", "filled": false, "size": 81, "strokeWidth": 1, "opacity": 0.85},
      "encoding": {
       "x": {"field": "x", "type": "quantitative", "scale": {"domain": [0, 11], "nice": false, "zero": false}, "axis": {"values": [1,2,3,4,5,6,7,8,9,10], "title": "The scaling factor of Cyclic"}},
       "y": {"field": "y", "type": "quantitative", "scale": {"domain": [0, 1.1], "nice": false, "zero": false}, "axis": {"values": [0,0.2,0.4,0.6,0.8,1], "format": "~g", "title": "Feature Filtering Ratio", "titlePadding": 2.5}},
       "color": {"datum": ":label", "scale": {"range": ["#ff0000"]}, "legend": {"orient": "none", "legendX": 17.5, "legendY": 28.5, "title": null, "symbolType": "M-1,0H1M0,-1V1", "symbolSize": 81, "symbolStrokeWidth": 1, "labelOffset": 10}}}},
     {"mark": {"type": "point", "opacity": 0},
      "encoding": {
       "x": {"field": "x", "type": "quantitative", "scale": {"domain": [0, 11], "nice": false, "zero": false}, "axis": {"orient": "top", "values": [1,2,3,4,5,6,7,8,9,10], "labels": false, "title": null}},
       "y": {"field": "y", "type": "quantitative", "scale": {"domain": [0, 1.1], "nice": false, "zero": false}, "axis": {"orient": "right", "values": [0,0.2,0.4,0.6,0.8,1], "labels": false, "title": null}}}}
    ],
    "resolve": {"axis": {"x": "independent", "y": "independent"}}}
   ]}
  ]},
 {"width": 275, "height": 190, "data": {"name": "d"},
  "title": {"text": "(d) Pruning with k-path", "orient": "bottom", "anchor": "start", "frame": "group", "dx": -42, "offset": 5},
  "layer": [
   {"mark": {"type": "point", "shape": "M-1,0H1M0,-1V1", "filled": false, "size": 81, "strokeWidth": 1, "opacity": 0.85},
    "encoding": {
     "x": {"field": "x", "type": "quantitative", "scale": {"domain": [0, 11], "nice": false, "zero": false}, "axis": {"values": [1,2,3,4,5,6,7,8,9,10], "title": "The scaling factor of Cyclic"}},
     "y": {"field": "y", "type": "quantitative", "scale": {"domain": [0, 1.1], "nice": false, "zero": false}, "axis": {"values": [0,0.2,0.4,0.6,0.8,1], "format": "~g", "title": "Feature Filtering Ratio", "titlePadding": 2.5}},
     "color": {"datum": ":kPath, where k=4", "scale": {"range": ["#ff0000"]}, "legend": {"orient": "none", "legendX": 101.5, "legendY": 153.5, "title": null, "symbolType": "M-1,0H1M0,-1V1", "symbolSize": 81, "symbolStrokeWidth": 1, "labelOffset": 27}}}},
   {"mark": {"type": "point", "opacity": 0},
    "encoding": {
     "x": {"field": "x", "type": "quantitative", "scale": {"domain": [0, 11], "nice": false, "zero": false}, "axis": {"orient": "top", "values": [1,2,3,4,5,6,7,8,9,10], "labels": false, "title": null}},
     "y": {"field": "y", "type": "quantitative", "scale": {"domain": [0, 1.1], "nice": false, "zero": false}, "axis": {"orient": "right", "values": [0,0.2,0.4,0.6,0.8,1], "labels": false, "title": null}}}}
  ],
  "resolve": {"axis": {"x": "independent", "y": "independent"}}}
 ]},
{"spacing": -46,
 "resolve": {"scale": {"color": "independent", "strokeDash": "independent"}, "legend": {"color": "independent", "strokeDash": "independent"}},
 "hconcat": [
 {"width": 1, "height": 1, "data": {"values": []}, "mark": "point", "view": {"stroke": null}},
 {"spacing": 0,
  "resolve": {"scale": {"color": "independent", "strokeDash": "independent"}, "legend": {"color": "independent", "strokeDash": "independent"}},
  "hconcat": [
  {"width": 273, "height": 189, "data": {"name": "e"},
   "title": {"text": "(e) Pruning with tree-based", "orient": "bottom", "anchor": "start", "frame": "group", "dx": -56, "offset": 5},
   "layer": [
    {"mark": {"type": "point", "shape": "M-1,0H1M0,-1V1", "filled": false, "size": 81, "strokeWidth": 1, "opacity": 0.85},
     "encoding": {
      "x": {"field": "x", "type": "quantitative", "scale": {"domain": [0, 11], "nice": false, "zero": false}, "axis": {"values": [1,2,3,4,5,6,7,8,9,10], "title": "The scaling factor of Cyclic"}},
      "y": {"field": "y", "type": "quantitative", "scale": {"domain": [0, 1.1], "nice": false, "zero": false}, "axis": {"values": [0,0.2,0.4,0.6,0.8,1], "format": "~g", "title": "Feature Filtering Ratio", "titlePadding": 3.5}},
      "color": {"datum": ":spanning tree", "scale": {"range": ["#ff0000"]}, "legend": {"orient": "none", "legendX": 113.5, "legendY": 162.5, "title": null, "symbolType": "M-1,0H1M0,-1V1", "symbolSize": 81, "symbolStrokeWidth": 1, "labelOffset": 8}}}},
    {"mark": {"type": "point", "opacity": 0},
     "encoding": {
      "x": {"field": "x", "type": "quantitative", "scale": {"domain": [0, 11], "nice": false, "zero": false}, "axis": {"orient": "top", "values": [1,2,3,4,5,6,7,8,9,10], "labels": false, "title": null}},
      "y": {"field": "y", "type": "quantitative", "scale": {"domain": [0, 1.1], "nice": false, "zero": false}, "axis": {"orient": "right", "values": [0,0.2,0.4,0.6,0.8,1], "labels": false, "title": null}}}}
   ],
   "resolve": {"axis": {"x": "independent", "y": "independent"}}},
  {"width": 287, "height": 189, "data": {"name": "f"},
   "title": {"text": "(f) Cyclic w. features", "orient": "bottom", "anchor": "start", "frame": "group", "dx": -16, "offset": 5},
   "layer": [
    {"mark": {"type": "point", "shape": "M-1,0H1M0,-1V1", "filled": false, "color": "#ff0000", "size": 81, "strokeWidth": 1, "opacity": 0.85},
     "encoding": {
      "x": {"field": "x", "type": "quantitative", "scale": {"domain": [0, 11], "nice": false, "zero": false}, "axis": {"values": [1,2,3,4,5,6,7,8,9,10], "title": "The scaling factor of Cyclic"}},
      "y": {"field": "y", "type": "quantitative", "scale": {"domain": [0, 40], "nice": false, "zero": false}, "axis": {"values": [0,10,20,30,40], "title": "Bisimulation Time(s)", "titlePadding": 3.4}}}},
    {"mark": {"type": "point", "opacity": 0},
     "encoding": {
      "x": {"field": "x", "type": "quantitative", "scale": {"domain": [0, 11], "nice": false, "zero": false}, "axis": {"orient": "top", "values": [1,2,3,4,5,6,7,8,9,10], "labels": false, "title": null}},
      "y": {"field": "y", "type": "quantitative", "scale": {"domain": [0, 40], "nice": false, "zero": false}, "axis": {"orient": "right", "values": [0,10,20,30,40], "labels": false, "title": null}}}}
   ],
   "resolve": {"axis": {"x": "independent", "y": "independent"}}},
  {"spacing": -5.5,
   "resolve": {"scale": {"color": "independent", "strokeDash": "independent"}, "legend": {"color": "independent", "strokeDash": "independent"}},
   "hconcat": [
   {"width": 287, "height": 189, "data": {"name": "g"},
    "title": {"text": "(g) Bisim. size of Base", "orient": "bottom", "anchor": "start", "frame": "group", "dx": -19, "offset": 5},
    "layer": [
     {"mark": {"type": "line", "strokeWidth": 1},
      "encoding": {
       "x": {"field": "x", "type": "quantitative", "scale": {"domain": [0, 120], "nice": false, "zero": false}, "axis": {"values": [0,20,40,60,80,100,120], "title": "x-th insertion"}},
       "y": {"field": "y", "type": "quantitative", "scale": {"domain": [5, 16], "nice": false, "zero": false}, "axis": {"values": [5,7,9,11,13,15,16], "title": "Index Size(x 1000)", "labelPadding": 12, "titlePadding": 4.4}},
       "color": {"field": "s", "type": "nominal", "scale": {"domain": ["Insert", "Ke et al."], "range": ["#ff0000", "#0000ff"]},
         "legend": {"orient": "none", "legendX": 222, "legendY": 146.5, "title": null, "symbolType": "stroke", "symbolSize": 625, "symbolStrokeWidth": 1.2, "labelAlign": "right", "labelOffset": -34}},
       "strokeDash": {"field": "s", "type": "nominal", "scale": {"domain": ["Insert", "Ke et al."], "range": [[1, 0], [4, 3]]},
         "legend": {"orient": "none", "legendX": 222, "legendY": 146.5, "title": null, "symbolType": "stroke", "symbolSize": 625, "symbolStrokeWidth": 1.2, "labelAlign": "right", "labelOffset": -34}}}},
     {"transform": [{"filter": "datum.s === 'Insert'"}],
      "mark": {"type": "point", "shape": "M-1,0H1M0,-1V1", "filled": false, "color": "#ff0000", "size": 64, "strokeWidth": 1, "opacity": 0.85},
      "encoding": {
       "x": {"field": "x", "type": "quantitative", "scale": {"domain": [0, 120], "nice": false, "zero": false}, "axis": {"orient": "top", "values": [0,20,40,60,80,100,120], "labels": false, "title": null}},
       "y": {"field": "y", "type": "quantitative", "scale": {"domain": [5, 16], "nice": false, "zero": false}, "axis": {"orient": "right", "values": [5,7,9,11,13,15,16], "labels": false, "title": null}}}},
     {"transform": [{"filter": "datum.s === 'Ke et al.'"}],
      "mark": {"type": "square", "color": "#0000ff", "size": 4, "opacity": 0.9},
      "encoding": {
       "x": {"field": "x", "type": "quantitative", "scale": {"domain": [0, 120], "nice": false, "zero": false}, "axis": null},
       "y": {"field": "y", "type": "quantitative", "scale": {"domain": [5, 16], "nice": false, "zero": false}, "axis": null}}}
    ],
    "resolve": {"axis": {"x": "independent", "y": "independent"}}},
   {"width": 283, "height": 189, "data": {"name": "h"},
    "title": {"text": "(h) Insertion time on Base", "orient": "bottom", "anchor": "start", "frame": "group", "dx": -39, "offset": 5},
    "layer": [
     {"mark": {"type": "point", "shape": "M-1,0H1M0,-1V1", "filled": false, "color": "#ff0000", "size": 81, "strokeWidth": 1, "opacity": 0.85},
      "encoding": {
       "x": {"field": "x", "type": "quantitative", "scale": {"domain": [0, 120], "nice": false, "zero": false}, "axis": {"values": [0,20,40,60,80,100,120], "title": "x-th insertion"}},
       "y": {"field": "y", "type": "quantitative", "scale": {"domain": [0, 45], "nice": false, "zero": false}, "axis": {"values": [5,10,15,20,25,30,35,40,45], "title": "Insertion Time(x 10s)", "titlePadding": 0.4}}}},
     {"mark": {"type": "point", "opacity": 0},
      "encoding": {
       "x": {"field": "x", "type": "quantitative", "scale": {"domain": [0, 120], "nice": false, "zero": false}, "axis": {"orient": "top", "values": [0,20,40,60,80,100,120], "labels": false, "title": null}},
       "y": {"field": "y", "type": "quantitative", "scale": {"domain": [0, 45], "nice": false, "zero": false}, "axis": {"orient": "right", "values": [5,10,15,20,25,30,35,40,45], "labels": false, "title": null}}}}
    ],
    "resolve": {"axis": {"x": "independent", "y": "independent"}}}
   ]}
  ]}
 ]}
],
"config": {
 "view": {"stroke": "#000000", "strokeWidth": 1},
 "axis": {"grid": false, "domain": false, "tickSize": -6, "tickColor": "#000000", "tickWidth": 1, "labelFont": "Liberation Sans", "labelFontSize": 14.5, "labelColor": "#000000", "titleFont": "Liberation Sans", "titleFontSize": 16, "titleFontWeight": "normal", "titleColor": "#000000", "labelFlush": false, "labelOverlap": false},
 "axisX": {"labelPadding": 15, "titlePadding": 8},
 "axisY": {"labelPadding": 15},
 "title": {"font": "Liberation Serif", "fontSize": 19, "fontWeight": "normal", "color": "#000000"},
 "legend": {"labelFont": "Liberation Sans", "labelFontSize": 15, "labelColor": "#000000", "padding": 0}
}
}
